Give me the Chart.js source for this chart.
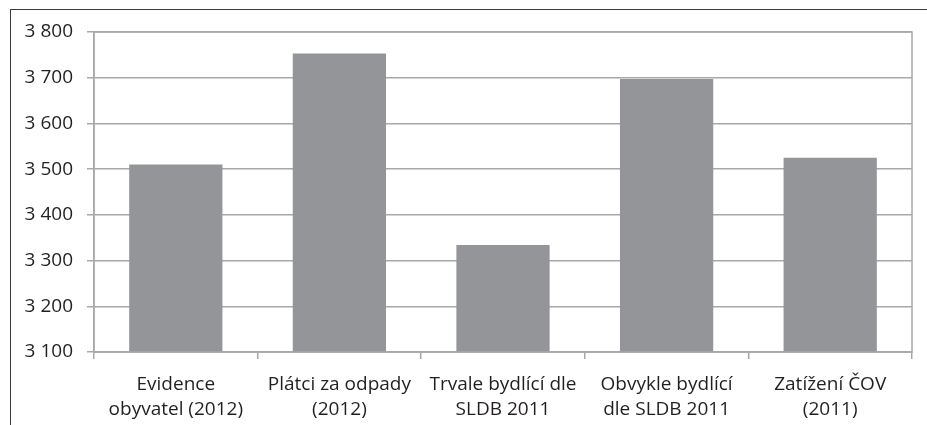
<!DOCTYPE html>
<html>
<head>
<meta charset="utf-8">
<script src="https://cdn.jsdelivr.net/npm/chart.js@4"></script>
<style>
  html, body { margin: 0; padding: 0; background: #fff; }
  #wrap { position: relative; width: 927px; height: 425px; overflow: hidden; }
  #frame { position: absolute; left: 10px; top: 9px; right: -5px; bottom: -5px;
           border-top: 1.5px solid #3a3a3a; border-left: 1.5px solid #3a3a3a; }
  #chart { position: absolute; left: 0; top: 0; }
</style>
</head>
<body>
<div id="wrap">
  <div id="frame"></div>
  <canvas id="chart" width="927" height="425"></canvas>
</div>
<script>
const categories = [
    ['Evidence', 'obyvatel (2012)'],
    ['Plátci za odpady', '(2012)'],
    ['Trvale bydlící dle', 'SLDB 2011'],
    ['Obvykle bydlící', 'dle SLDB 2011'],
    ['Zatížení ČOV', '(2011)']
];
const residents = [3510, 3753, 3334, 3697, 3525];
const yMin = 3100;
const yMax = 3800;
const yStep = 100;

// thin frame round the plot area (right + top edges like the original)
const plotBorder = {
    id: 'plotBorder',
    afterDraw(chart) {
        const a = chart.chartArea;
        const c = chart.ctx;
        c.save();
        c.strokeStyle = '#a7a8aa';
        c.lineWidth = 1.5;
        c.strokeRect(a.left, a.top, a.right - a.left, a.bottom - a.top);
        c.restore();
    }
};

const ctx = document.getElementById('chart').getContext('2d');
const myChart = new Chart(ctx, {
    type: 'bar',
    data: {
        labels: categories,
        datasets: [{
            label: 'Počet obyvatel',
            data: residents,
            backgroundColor: '#939598',
            borderWidth: 0,
            barPercentage: 0.57,
            categoryPercentage: 1
        }]
    },
    options: {
        responsive: false,
        animation: false,
        layout: { padding: { top: 32, right: 15, left: 0, bottom: 0 } },
        plugins: {
            legend: { display: false },
            tooltip: { enabled: false }
        },
        scales: {
            x: {
                offset: true,
                grid: {
                    drawOnChartArea: false,
                    drawTicks: true,
                    tickLength: 7,
                    color: '#a7a8aa',
                    lineWidth: 1.5,
                    offset: true
                },
                border: { color: '#a7a8aa', width: 1.5 },
                ticks: {
                    color: '#231f20',
                    font: { family: 'Open Sans', size: 19, lineHeight: 1.27 },
                    maxRotation: 0,
                    autoSkip: false,
                    padding: 14
                },
                afterFit(scale) { scale.height = 73; }
            },
            y: {
                min: yMin,
                max: yMax,
                grid: {
                    color: '#a7a8aa',
                    lineWidth: 1.5,
                    tickLength: 7
                },
                border: { color: '#a7a8aa', width: 1.5 },
                ticks: {
                    stepSize: yStep,
                    color: '#231f20',
                    font: { family: 'Open Sans', size: 19 },
                    padding: 14,
                    callback: v => String(v).replace(/\B(?=(\d{3})+(?!\d))/g, ' ')
                },
                afterFit(scale) { scale.width = 94; }
            }
        }
    },
    plugins: [plotBorder]
});
</script>
</body>
</html>
